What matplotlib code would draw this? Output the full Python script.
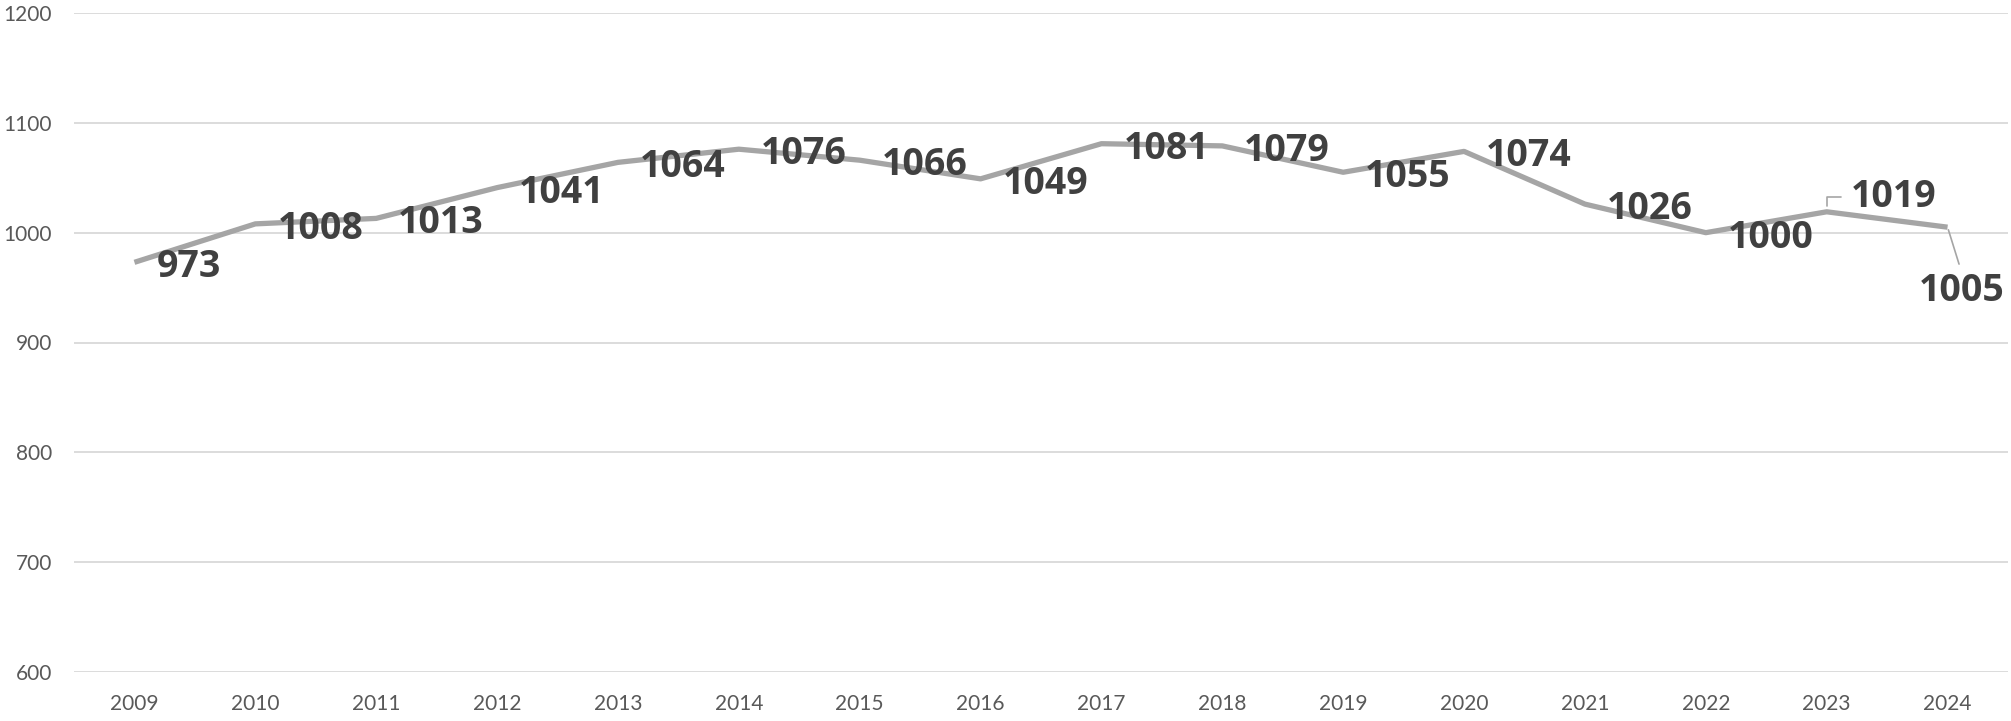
import matplotlib
matplotlib.use("Agg")
import matplotlib.pyplot as plt

years = ["2009", "2010", "2011", "2012", "2013", "2014", "2015", "2016",
         "2017", "2018", "2019", "2020", "2021", "2022", "2023", "2024"]
values = [973, 1008, 1013, 1041, 1064, 1076, 1066, 1049,
          1081, 1079, 1055, 1074, 1026, 1000, 1019, 1005]
y_ticks = [600, 700, 800, 900, 1000, 1100, 1200]

plt.rcParams["font.family"] = ["Lato", "DejaVu Sans"]

fig = plt.figure(figsize=(20.11, 7.21), dpi=100)
ax = fig.add_axes([74 / 2011, 1 - 672 / 721, (2008 - 74) / 2011, (672 - 13) / 721])

x = list(range(len(years)))
ax.plot(x, values, color="#A5A5A5", lw=3.8, solid_joinstyle="round",
        solid_capstyle="butt", zorder=3)

ax.set_xlim(-0.5, len(years) - 0.5)
ax.set_ylim(600, 1200)
ax.set_yticks(y_ticks)
ax.set_xticks(x)
ax.set_xticklabels(years)
ax.grid(axis="y", color="#D9D9D9", lw=1.3)
ax.set_axisbelow(True)
for s in ax.spines.values():
    s.set_visible(False)
ax.tick_params(length=0, labelsize=15, labelcolor="#595959")
ax.tick_params(axis="y", pad=16)
ax.tick_params(axis="x", pad=16)

lbl = dict(fontsize=27, fontweight="bold", color="#404040",
           family=["Open Sans", "DejaVu Sans"],
           textcoords="offset pixels", va="center", zorder=4)
for i, v in enumerate(values):
    if i == 14:
        ax.annotate(str(v), (i, v), xytext=(24, 15), ha="left",
                    arrowprops=dict(arrowstyle="-", color="#A5A5A5", lw=1.2,
                                    connectionstyle="angle,angleA=0,angleB=90,rad=0",
                                    relpos=(0, 0.5), shrinkA=5, shrinkB=4),
                    **lbl)
    elif i == 15:
        ax.annotate(str(v), (i, v), xytext=(14, -64), ha="center",
                    arrowprops=dict(arrowstyle="-", color="#A5A5A5", lw=1.2,
                                    relpos=(0.5, 1), shrinkA=4, shrinkB=2),
                    **lbl)
    else:
        ax.annotate(str(v), (i, v), xytext=(22, -5), ha="left", **lbl)

fig.savefig("out.png", dpi=100)
